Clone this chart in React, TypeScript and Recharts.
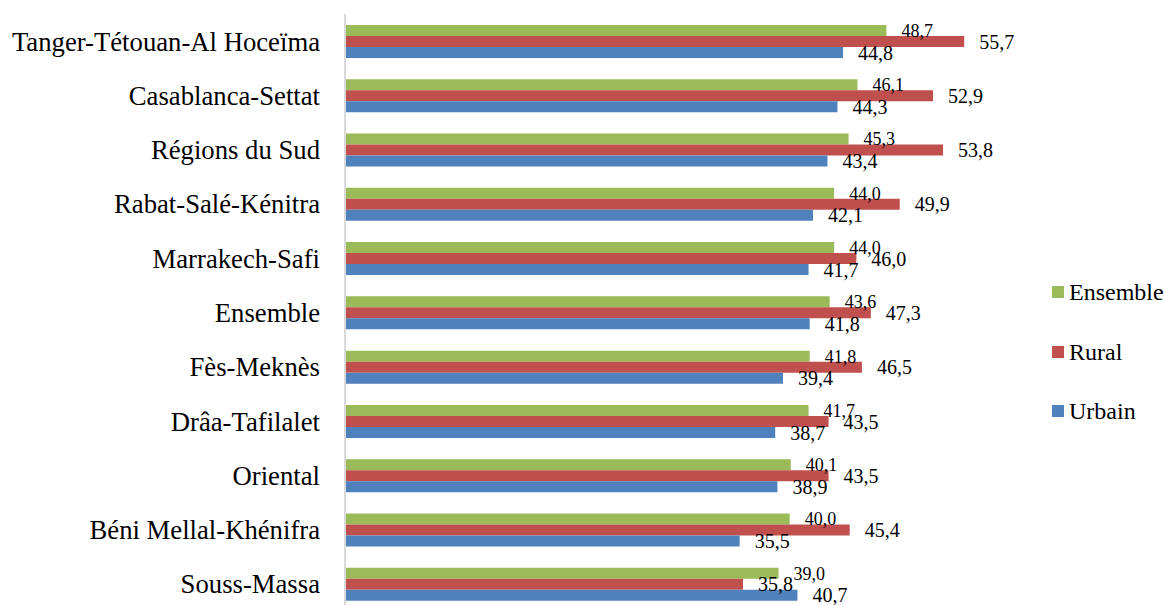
import { BarChart, Bar, XAxis, YAxis, LabelList } from 'recharts';

const regions = [
  'Tanger-Tétouan-Al Hoceïma',
  'Casablanca-Settat',
  'Régions du Sud',
  'Rabat-Salé-Kénitra',
  'Marrakech-Safi',
  'Ensemble',
  'Fès-Meknès',
  'Drâa-Tafilalet',
  'Oriental',
  'Béni Mellal-Khénifra',
  'Souss-Massa',
];

const ensemble = [48.7, 46.1, 45.3, 44.0, 44.0, 43.6, 41.8, 41.7, 40.1, 40.0, 39.0];
const rural = [55.7, 52.9, 53.8, 49.9, 46.0, 47.3, 46.5, 43.5, 43.5, 45.4, 35.8];
const urbain = [44.8, 44.3, 43.4, 42.1, 41.7, 41.8, 39.4, 38.7, 38.9, 35.5, 40.7];

const FONT = 'Liberation Serif, Times New Roman, Tinos, serif';

const series = [
  { key: 'ensemble', name: 'Ensemble', color: '#9BBB59', labelSize: 18 },
  { key: 'rural', name: 'Rural', color: '#C0504D', labelSize: 20 },
  { key: 'urbain', name: 'Urbain', color: '#4F81BD', labelSize: 20 },
];

const data = regions.map((region, i) => ({
  region,
  ensemble: ensemble[i],
  rural: rural[i],
  urbain: urbain[i],
}));

const fmt = (v: any) => Number(v).toFixed(1).replace('.', ',');

export default function App() {
  return (
    <div
      style={{
        position: 'fixed',
        left: 0,
        top: 0,
        width: 1164,
        height: 605,
        overflow: 'hidden',
        background: '#fff',
        fontFamily: FONT,
      }}
    >
      <BarChart
        width={1164}
        height={611}
        data={data}
        layout="vertical"
        margin={{ top: 14, right: 152, bottom: 0, left: 0 }}
        barGap={0}
      >
        <XAxis type="number" domain={[0, 60]} hide />
        <YAxis
          type="category"
          dataKey="region"
          width={345}
          tickLine={false}
          tickSize={0}
          tickMargin={25}
          axisLine={{ stroke: '#d9d9d9', strokeWidth: 2 }}
          tick={{ fontSize: 26.7, fill: '#000', fontFamily: FONT }}
          interval={0}
        />
        {series.map((s) => (
          <Bar
            key={s.key}
            dataKey={s.key}
            name={s.name}
            fill={s.color}
            barSize={11}
            isAnimationActive={false}
          >
            <LabelList
              dataKey={s.key}
              position="right"
              offset={15}
              formatter={fmt}
              style={{ fontSize: s.labelSize, fill: '#000', fontFamily: FONT }}
            />
          </Bar>
        ))}
      </BarChart>

      {/* legend, right side */}
      <div style={{ position: 'absolute', left: 1052, top: 280 }}>
        {series.map((s) => (
          <div
            key={s.key}
            style={{ display: 'flex', alignItems: 'center', height: 24, marginBottom: 35.5 }}
          >
            <div style={{ width: 12, height: 12, background: s.color, marginRight: 5 }} />
            <span style={{ fontSize: 24, color: '#000', lineHeight: '24px' }}>{s.name}</span>
          </div>
        ))}
      </div>
    </div>
  );
}
